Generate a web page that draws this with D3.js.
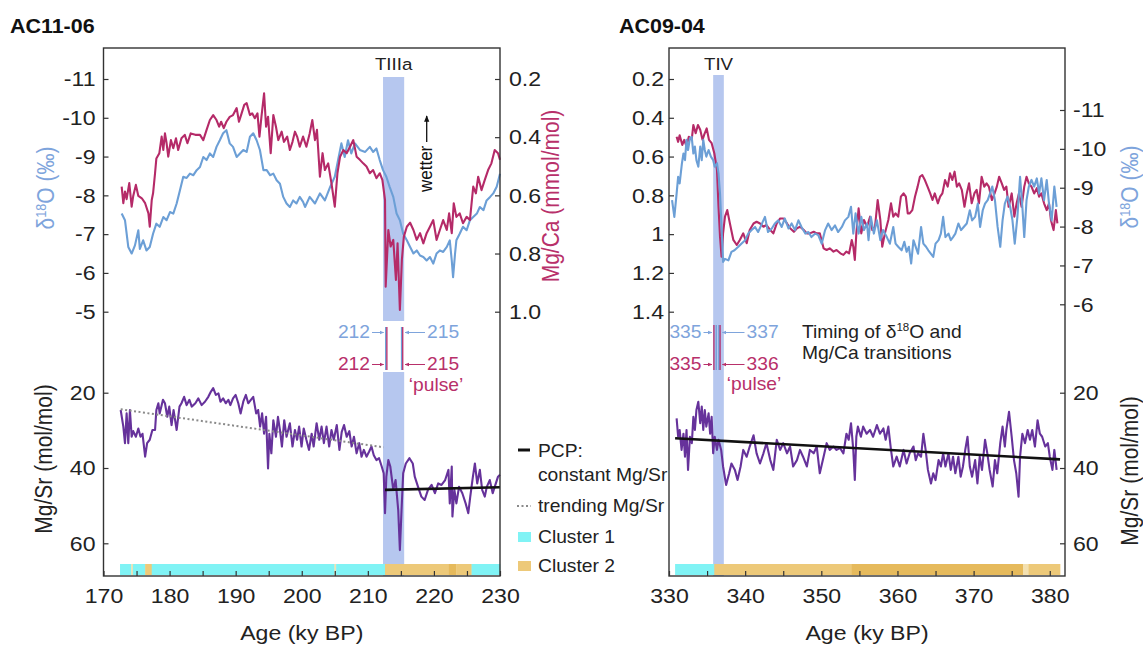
<!DOCTYPE html>
<html><head><meta charset="utf-8">
<script src="https://cdn.jsdelivr.net/npm/d3@7"></script>
<style>body{margin:0;background:#fff}svg{display:block}</style>
</head><body><svg id="c" width="1143" height="646"></svg>
<script>
// ---------------- DATA ----------------
const titles = ["AC11-06", "AC09-04"];
const xTicksL = [170,180,190,200,210,220,230];
const xTicksR = [330,340,350,360,370,380];
const d18oTicksL = [-11,-10,-9,-8,-7,-6,-5];
const mgcaTicksL = [0.2,0.4,0.6,0.8,1.0];
const mgcaTicksR = [0.2,0.4,0.6,0.8,1.0,1.2,1.4];
const d18oTicksR = [-11,-10,-9,-8,-7,-6];
const mgsrTicks = [20,40,60];
const bandL = [212.3,215.5];   // TIIIa
const bandR = [335.8,337.2];   // TIV

const leftD18O = [[172.75,-7.53],[173.25,-7.36],[173.75,-6.67],[174.26,-6.5],[174.76,-6.71],[175.27,-7.1],[175.5,-6.62],[176.0,-6.84],[176.5,-6.58],[177.0,-6.67],[177.5,-7.01],[178.0,-7.27],[178.5,-7.19],[179.05,-7.44],[179.55,-7.36],[180.06,-7.57],[180.56,-7.53],[181.07,-7.79],[181.57,-8.13],[182.07,-8.48],[182.58,-8.45],[183.08,-8.56],[183.6,-8.52],[184.1,-8.65],[184.6,-8.73],[185.1,-8.99],[185.6,-8.91],[186.1,-9.08],[186.6,-8.99],[187.1,-9.25],[187.6,-9.42],[188.1,-9.6],[188.6,-9.68],[189.1,-9.34],[189.6,-9.25],[190.15,-8.99],[190.65,-9.08],[191.15,-9.17],[191.66,-9.12],[192.16,-9.51],[192.66,-9.6],[193.17,-9.42],[193.67,-9.17],[194.2,-8.65],[194.7,-8.65],[195.2,-8.52],[195.7,-8.56],[196.2,-8.39],[196.7,-8.3],[197.2,-7.96],[197.7,-7.79],[198.2,-7.7],[198.7,-7.87],[199.2,-7.79],[199.7,-7.96],[200.2,-7.83],[200.5,-7.7],[201.2,-7.96],[202.0,-7.79],[202.75,-8.05],[203.5,-7.87],[204.3,-8.22],[205.0,-8.48],[205.5,-8.91],[206.0,-9.34],[206.5,-8.99],[207.0,-9.42],[207.5,-9.08],[208.05,-9.34],[208.8,-9.17],[209.6,-9.12],[210.3,-9.25],[210.8,-9.12],[211.3,-9.21],[211.8,-8.91],[212.3,-8.65],[212.8,-8.48],[213.3,-8.22],[213.85,-7.96],[214.35,-7.53],[214.85,-7.36],[215.35,-7.01],[215.9,-6.84],[216.4,-6.67],[216.9,-6.5],[217.4,-6.58],[217.9,-6.45],[218.4,-6.41],[218.9,-6.32],[219.4,-6.41],[219.9,-6.24],[220.4,-6.5],[220.9,-6.58],[221.4,-6.54],[221.95,-6.67],[222.4,-6.84],[222.7,-6.32],[222.9,-5.89],[223.2,-6.5],[223.4,-6.84],[223.9,-7.01],[224.4,-7.19],[224.95,-7.1],[225.45,-7.36],[225.95,-7.44],[226.5,-7.53],[226.95,-7.7],[227.5,-7.62],[227.97,-7.87],[228.5,-7.96],[228.98,-8.05],[229.5,-8.22],[230.0,-8.56]];

const leftMgCa = [[172.75,0.57],[173.0,0.627],[173.25,0.587],[173.5,0.613],[173.9,0.558],[174.26,0.639],[174.5,0.602],[174.9,0.564],[175.27,0.602],[175.8,0.61],[176.3,0.627],[176.8,0.662],[177.0,0.708],[177.3,0.616],[177.5,0.593],[177.8,0.524],[178.0,0.473],[178.45,0.455],[178.8,0.398],[179.05,0.444],[179.3,0.387],[179.55,0.421],[179.8,0.467],[180.2,0.41],[180.56,0.438],[180.97,0.404],[181.3,0.444],[181.8,0.404],[182.3,0.392],[182.7,0.421],[183.2,0.387],[183.9,0.392],[184.6,0.392],[185.1,0.41],[185.6,0.375],[186.1,0.341],[186.6,0.324],[187.1,0.341],[187.5,0.364],[187.8,0.347],[188.2,0.369],[188.6,0.347],[189.1,0.33],[189.6,0.324],[190.15,0.3],[190.5,0.347],[190.9,0.318],[191.3,0.289],[191.66,0.283],[192.16,0.324],[192.5,0.318],[192.9,0.335],[193.3,0.318],[193.6,0.398],[193.9,0.33],[194.3,0.249],[194.6,0.364],[194.9,0.33],[195.3,0.455],[195.7,0.324],[196.1,0.364],[196.45,0.41],[196.96,0.381],[197.3,0.416],[197.8,0.398],[198.2,0.444],[198.6,0.416],[198.97,0.381],[199.3,0.398],[199.7,0.433],[200.2,0.398],[200.7,0.433],[201.2,0.387],[201.6,0.341],[202.0,0.41],[202.3,0.375],[202.75,0.536],[203.15,0.455],[203.5,0.513],[204.0,0.49],[204.5,0.559],[205.0,0.639],[205.4,0.524],[205.8,0.467],[206.3,0.444],[206.8,0.455],[207.3,0.433],[207.8,0.41],[208.3,0.467],[208.8,0.478],[209.3,0.49],[209.8,0.501],[210.3,0.524],[210.8,0.513],[211.3,0.541],[211.8,0.524],[212.2,0.547],[212.6,0.616],[212.7,0.914],[213.1,0.719],[213.45,0.776],[213.85,0.753],[214.25,0.891],[214.5,0.765],[214.85,0.994],[215.15,0.822],[215.45,0.742],[215.9,0.708],[216.4,0.694],[216.9,0.719],[217.4,0.753],[217.9,0.73],[218.4,0.765],[218.9,0.73],[219.4,0.708],[219.9,0.685],[220.4,0.753],[220.9,0.719],[221.4,0.685],[221.95,0.719],[222.3,0.662],[222.7,0.73],[223.0,0.627],[223.4,0.674],[223.9,0.662],[224.4,0.696],[224.95,0.674],[225.45,0.685],[225.95,0.57],[226.35,0.593],[226.7,0.536],[227.2,0.582],[227.7,0.547],[228.2,0.513],[228.7,0.49],[229.2,0.444],[229.7,0.455],[230.0,0.478]];

const leftMgSr = [[172.6,24.6],[173.0,29.0],[173.25,33.4],[173.5,25.5],[173.75,33.4],[174.0,24.6],[174.26,31.7],[174.5,30.2],[174.9,31.7],[175.27,29.5],[175.6,31.7],[175.9,30.9],[176.3,37.0],[176.6,33.4],[177.0,32.5],[177.4,29.9],[177.8,29.9],[178.0,24.6],[178.3,22.8],[178.5,25.5],[179.0,21.9],[179.3,22.8],[179.65,26.4],[179.95,23.7],[180.3,28.6],[180.6,24.6],[181.07,29.9],[181.5,23.7],[181.8,22.8],[182.2,21.1],[182.58,23.3],[183.0,21.9],[183.35,23.7],[183.9,22.8],[184.35,21.5],[184.85,23.3],[185.35,22.4],[185.86,21.1],[186.26,19.7],[186.6,18.8],[187.0,20.6],[187.4,20.2],[187.7,22.4],[188.1,21.5],[188.5,22.8],[188.9,21.9],[189.2,23.3],[189.6,21.5],[190.0,20.6],[190.4,22.8],[190.75,25.5],[191.15,22.4],[191.55,20.6],[191.9,22.8],[192.3,21.9],[192.66,21.1],[193.1,25.5],[193.4,24.6],[193.7,29.0],[194.0,25.5],[194.3,30.9],[194.6,26.4],[194.9,40.1],[195.1,30.9],[195.4,36.1],[195.7,27.3],[196.1,31.7],[196.4,26.4],[196.7,29.9],[197.0,34.3],[197.35,27.3],[197.7,31.7],[198.2,28.1],[198.6,34.3],[198.97,29.9],[199.3,32.5],[199.6,29.0],[199.97,34.3],[200.3,29.5],[200.7,32.5],[201.1,35.2],[201.5,30.9],[201.8,34.3],[202.25,28.1],[202.65,32.5],[203.0,29.0],[203.35,33.4],[203.75,29.0],[204.15,34.3],[204.5,29.9],[204.85,32.5],[205.3,28.6],[205.7,35.2],[206.05,30.4],[206.4,28.6],[206.8,31.7],[207.2,30.2],[207.55,34.3],[207.9,31.7],[208.3,36.1],[208.7,33.4],[209.05,37.0],[209.4,35.2],[209.8,37.0],[210.2,35.6],[210.55,34.3],[210.9,36.6],[211.3,37.9],[211.7,37.4],[212.1,39.6],[212.4,41.4],[212.6,52.0],[212.8,42.3],[213.1,37.9],[213.4,39.6],[213.85,45.8],[214.2,43.2],[214.6,51.2],[214.85,61.8],[215.1,51.2],[215.35,41.4],[215.75,38.8],[216.3,37.4],[216.8,38.8],[217.1,42.3],[217.6,45.0],[218.1,47.6],[218.6,48.5],[219.1,45.8],[219.65,44.5],[220.15,46.7],[220.65,44.1],[221.15,44.5],[221.7,43.2],[222.2,40.5],[222.4,49.4],[222.7,39.6],[222.8,52.9],[223.1,45.8],[223.4,49.4],[223.8,45.0],[224.3,46.7],[224.8,49.4],[225.2,52.0],[225.5,47.6],[225.9,42.3],[226.2,38.8],[226.55,44.1],[226.95,40.5],[227.3,45.8],[227.7,47.6],[228.0,45.0],[228.45,43.2],[228.9,46.7],[229.2,45.0],[229.7,42.3],[230.0,41.8]];

const rightD18O = [[330.4,-8.68],[330.7,-8.25],[331.0,-8.85],[331.2,-9.28],[331.4,-9.11],[331.7,-9.63],[331.9,-9.88],[332.1,-9.71],[332.3,-10.23],[332.5,-9.97],[332.75,-10.27],[332.98,-10.31],[333.2,-9.88],[333.4,-10.06],[333.6,-9.71],[333.85,-9.54],[334.1,-10.06],[334.3,-9.71],[334.5,-10.23],[334.7,-9.97],[334.9,-9.8],[335.2,-9.97],[335.5,-9.8],[335.8,-9.71],[336.0,-9.54],[336.3,-9.63],[336.5,-9.37],[336.7,-8.85],[336.9,-7.99],[337.1,-7.09],[337.35,-7.17],[337.8,-7.13],[338.2,-7.35],[338.6,-7.39],[339.1,-7.48],[339.5,-7.56],[340.0,-7.65],[340.4,-7.82],[340.85,-7.91],[341.3,-7.99],[341.7,-7.86],[342.1,-8.03],[342.6,-8.25],[343.0,-7.86],[343.5,-7.95],[343.9,-8.08],[344.35,-8.16],[344.8,-7.99],[345.2,-8.21],[345.7,-7.95],[346.1,-8.08],[346.55,-7.91],[347.0,-8.16],[347.4,-7.99],[347.9,-7.82],[348.3,-7.86],[348.7,-7.73],[349.2,-7.82],[349.6,-7.78],[350.05,-7.56],[350.5,-7.91],[350.9,-8.08],[351.35,-7.91],[351.8,-8.03],[352.2,-7.86],[352.7,-7.99],[353.1,-8.16],[353.55,-8.25],[353.9,-8.51],[354.2,-7.82],[354.5,-8.34],[354.9,-7.82],[355.25,-8.25],[355.6,-7.91],[356.0,-8.08],[356.2,-7.65],[356.5,-8.25],[356.9,-7.82],[357.3,-8.16],[357.75,-7.65],[358.1,-7.91],[358.6,-7.73],[359.0,-7.56],[359.45,-7.99],[359.75,-7.56],[360.1,-7.48],[360.55,-7.39],[360.9,-7.61],[361.2,-7.35],[361.5,-7.48],[361.8,-7.05],[362.1,-7.65],[362.4,-7.48],[362.7,-7.3],[363.1,-7.99],[363.4,-7.56],[363.75,-7.48],[364.05,-7.39],[364.4,-7.3],[364.7,-7.22],[365.0,-7.56],[365.4,-7.65],[365.7,-7.82],[366.0,-8.25],[366.3,-7.73],[366.7,-7.82],[367.0,-7.65],[367.3,-7.73],[367.6,-7.82],[368.0,-8.08],[368.35,-7.91],[368.7,-7.99],[369.1,-8.08],[369.5,-8.42],[369.8,-8.16],[370.2,-8.25],[370.55,-8.59],[370.85,-7.99],[371.2,-8.42],[371.5,-8.59],[371.85,-8.68],[372.15,-8.85],[372.45,-9.03],[372.8,-8.68],[373.15,-7.99],[373.5,-7.48],[373.8,-8.16],[374.1,-8.59],[374.45,-8.77],[374.8,-8.51],[375.1,-8.16],[375.4,-7.56],[375.75,-8.25],[376.1,-9.28],[376.4,-8.51],[376.65,-7.73],[376.95,-8.68],[377.25,-9.03],[377.6,-9.2],[377.95,-9.03],[378.3,-9.24],[378.6,-8.85],[378.9,-9.24],[379.25,-8.68],[379.6,-9.2],[379.9,-8.59],[380.25,-8.16],[380.6,-9.03],[380.9,-8.51]];

const rightMgCa = [[331.0,0.498],[331.2,0.524],[331.4,0.49],[331.75,0.54],[332.0,0.514],[332.3,0.548],[332.6,0.498],[332.98,0.514],[333.2,0.437],[333.5,0.48],[333.8,0.437],[334.1,0.462],[334.4,0.514],[334.6,0.49],[334.95,0.455],[335.25,0.514],[335.6,0.531],[335.95,0.583],[336.3,0.669],[336.5,0.859],[336.7,1.013],[336.9,1.116],[337.1,0.996],[337.35,0.91],[337.65,0.876],[338.0,0.945],[338.45,1.03],[338.9,1.056],[339.3,1.03],[339.75,0.996],[340.2,1.047],[340.6,0.979],[341.1,0.945],[341.5,0.936],[341.95,0.945],[342.4,0.962],[342.8,0.953],[343.3,0.979],[343.7,0.996],[344.15,0.945],[344.6,0.919],[345.0,0.919],[345.5,0.945],[345.9,0.97],[346.4,0.988],[346.8,0.97],[347.2,0.962],[347.7,0.979],[348.1,0.996],[348.5,0.996],[349.0,0.988],[349.4,0.996],[349.8,0.996],[350.3,1.073],[350.7,1.082],[351.1,1.073],[351.6,1.09],[352.0,1.082],[352.5,1.099],[352.9,1.107],[353.3,1.09],[353.65,1.099],[354.0,1.03],[354.2,1.065],[354.4,1.133],[354.6,0.996],[354.9,0.867],[355.25,0.996],[355.6,0.927],[356.0,0.962],[356.4,0.91],[356.7,0.979],[357.05,0.962],[357.4,0.824],[357.75,0.927],[358.0,1.065],[358.35,0.996],[358.8,0.927],[359.15,0.841],[359.45,0.91],[359.75,0.893],[360.1,0.91],[360.45,0.807],[360.8,0.79],[361.1,0.807],[361.35,0.893],[361.6,0.893],[361.95,0.876],[362.3,0.807],[362.65,0.755],[362.95,0.704],[363.25,0.695],[363.6,0.721],[363.95,0.755],[364.3,0.79],[364.6,0.824],[364.9,0.79],[365.3,0.841],[365.6,0.807],[365.9,0.79],[366.25,0.721],[366.6,0.755],[366.9,0.686],[367.2,0.721],[367.5,0.678],[367.8,0.755],[368.1,0.738],[368.45,0.772],[368.8,0.859],[369.1,0.79],[369.4,0.738],[369.75,0.841],[370.1,0.79],[370.4,0.772],[370.7,0.841],[371.05,0.704],[371.4,0.755],[371.7,0.738],[372.0,0.755],[372.4,0.824],[372.75,0.79],[373.05,0.755],[373.35,0.704],[373.7,0.738],[374.0,0.772],[374.3,0.755],[374.6,0.859],[375.0,0.79],[375.35,0.91],[375.65,0.841],[375.95,0.79],[376.3,0.859],[376.65,0.755],[376.95,0.704],[377.25,0.738],[377.6,0.755],[377.95,0.79],[378.3,0.763],[378.6,0.807],[378.9,0.79],[379.25,0.841],[379.6,0.876],[379.9,0.841],[380.15,0.927],[380.5,0.979],[380.8,0.876],[381.0,0.945]];

const rightMgSr = [[331.0,26.8],[331.2,31.7],[331.4,29.9],[331.65,35.2],[331.9,30.9],[332.1,37.0],[332.3,29.9],[332.5,40.5],[332.75,31.7],[333.0,33.4],[333.2,26.4],[333.4,29.9],[333.6,24.6],[333.85,22.4],[334.1,28.1],[334.3,23.7],[334.5,29.9],[334.7,24.6],[334.9,29.0],[335.2,25.5],[335.4,30.9],[335.6,26.4],[335.8,36.1],[336.0,31.7],[336.3,35.2],[336.5,32.5],[336.85,35.2],[337.1,39.6],[337.5,44.5],[337.9,41.4],[338.2,38.8],[338.65,40.5],[339.0,43.2],[339.4,39.6],[339.75,35.2],[340.2,37.0],[340.6,34.3],[341.1,31.3],[341.5,36.1],[341.95,38.8],[342.4,36.1],[342.8,33.4],[343.3,37.9],[343.7,40.5],[344.15,32.5],[344.6,35.2],[345.0,33.4],[345.5,36.1],[345.9,34.3],[346.3,39.6],[346.8,37.9],[347.2,35.2],[347.6,37.0],[348.1,39.6],[348.5,35.2],[349.0,36.1],[349.4,34.3],[349.8,41.4],[350.3,37.0],[350.7,33.4],[351.1,35.2],[351.6,34.3],[352.0,35.2],[352.45,34.7],[352.9,36.1],[353.3,30.9],[353.6,32.5],[353.9,28.1],[354.2,35.2],[354.4,43.2],[354.6,31.7],[354.8,29.0],[355.2,31.7],[355.5,29.0],[355.95,30.9],[356.4,29.9],[356.8,31.7],[357.3,28.6],[357.7,30.9],[358.15,29.5],[358.45,32.5],[358.8,29.0],[359.15,35.2],[359.45,39.6],[359.9,37.0],[360.3,39.6],[360.8,35.2],[361.2,38.8],[361.6,36.1],[362.1,34.3],[362.4,37.9],[362.7,36.1],[363.1,37.0],[363.4,30.9],[363.7,35.2],[364.0,40.5],[364.4,44.1],[364.7,41.4],[365.0,43.2],[365.4,37.9],[365.7,39.6],[366.0,36.1],[366.3,39.6],[366.7,36.1],[367.0,40.5],[367.3,37.0],[367.6,41.4],[368.0,37.0],[368.3,42.3],[368.6,39.6],[368.9,35.2],[369.2,31.7],[369.5,39.6],[369.8,42.3],[370.2,37.9],[370.5,44.1],[370.8,37.0],[371.1,40.5],[371.5,32.5],[371.8,36.1],[372.1,40.5],[372.5,44.9],[372.8,37.9],[373.1,41.4],[373.5,33.4],[373.8,29.0],[374.1,34.3],[374.3,29.9],[374.65,25.1],[375.0,31.7],[375.3,37.9],[375.6,41.4],[375.9,47.6],[376.1,37.0],[376.4,30.9],[376.75,33.4],[377.1,29.9],[377.4,32.5],[377.7,29.9],[378.05,34.3],[378.4,27.3],[378.7,30.9],[379.0,31.7],[379.4,34.3],[379.75,33.4],[380.0,37.0],[380.35,40.5],[380.6,35.2],[380.9,40.5]];

const pcpL = [[212.6,45.8],[230.0,45.1]];
const trendL = [[172.6,24.4],[212.4,34.5]];
const pcpR = [[330.8,32.1],[381.35,37.7]];

// cluster segments: [start, end, cluster, shade]
const clusterL = [[172.5,174.2,1,0],[174.2,174.45,2,1],[174.45,176.3,1,0],[176.3,177.3,2,0],[177.3,204.95,1,0],[204.95,205.2,2,1],[205.2,212.6,1,0],[212.6,222.2,2,0],[222.2,223.4,2,2],[223.4,225.7,2,0],[225.7,230,1,0]];
const clusterR = [[330.8,335.95,1,0],[335.95,354.0,2,0],[354.0,376.5,2,2],[376.5,377.2,2,1],[377.2,381.35,2,0]];

// timing annotations (ky BP)
const timingL = {d18o:[212,215], mgca:[212,215], linesAt:[212.7,215.1]};
const timingR = {d18o:[335,337], mgca:[335,336], linesAt:[335.9,336.2,336.55]};

// ---------------- STYLE ----------------
const SX = 1.1;
const FONT = '"Liberation Sans", Arial, Helvetica, sans-serif';
const BLUE = '#6c9fd6', PINK = '#b52a68', PURPLE = '#66329b';
const BLUE_T = '#7ea4dc', PINK_T = '#b8306a';
const BAND = '#b6c7ef';
const CYAN = '#80f3f5';
const TAN = ['#edc979', '#f3e0b0', '#e6ba5c'];
const AXC = '#333';

const svg = d3.select('#c');
const TOP = 48, BOT = 576;

const xL = d3.scaleLinear().domain([170,230]).range([103.5,500]);
const xR = d3.scaleLinear().domain([330,382]).range([669,1065]);
const yLd = d3.scaleLinear().domain([-11,-5]).range([79,311.7]);
const yLm = d3.scaleLinear().domain([0.2,1.0]).range([79,311.7]);
const yRm = d3.scaleLinear().domain([0.2,1.4]).range([79,311.7]);
const yRd = d3.scaleLinear().domain([-11,-6]).range([110,304.3]);
const ySr = d3.scaleLinear().domain([20,60]).range([392.7,543.3]);

// markers
const defs = svg.append('defs');
function marker(id, color, size) {
  defs.append('marker').attr('id', id).attr('viewBox','0 0 10 10').attr('refX',9).attr('refY',5)
    .attr('markerWidth',size).attr('markerHeight',size).attr('orient','auto')
    .append('path').attr('d','M0,1L10,5L0,9z').attr('fill',color);
}
marker('mb', BLUE_T, 4.5); marker('mp', PINK_T, 4.5); marker('mk', '#111', 5);

function label(x, y, str, o = {}) {
  const size = o.size || 17;
  const t = svg.append('text')
    .attr('transform', `translate(${x},${y}) scale(${SX},1)` + (o.rot ? ` rotate(${o.rot})` : ''))
    .attr('text-anchor', o.anchor || 'start').attr('font-size', size)
    .attr('fill', o.color || '#222').attr('font-weight', o.weight || 'normal')
    .attr('font-family', FONT);
  if (str) t.text(str);
  return t;
}
function d18o(t, size, suffix) {
  t.append('tspan').text('δ');
  t.append('tspan').text('18').attr('font-size', size * 0.6).attr('dy', -size * 0.38);
  t.append('tspan').text(suffix).attr('dy', size * 0.38);
  return t;
}

// ---------------- BANDS ----------------
svg.append('rect').attr('x', xL(bandL[0])).attr('width', xL(bandL[1]) - xL(bandL[0]))
  .attr('y', 77).attr('height', 321 - 77).attr('fill', BAND);
svg.append('rect').attr('x', xL(bandL[0])).attr('width', xL(bandL[1]) - xL(bandL[0]))
  .attr('y', 372).attr('height', BOT - 372).attr('fill', BAND);
svg.append('rect').attr('x', xR(bandR[0])).attr('width', xR(bandR[1]) - xR(bandR[0]))
  .attr('y', 75).attr('height', BOT - 75).attr('fill', BAND);

// ---------------- CLUSTER BARS ----------------
function clusters(data, x) {
  svg.append('g').selectAll('rect').data(data).join('rect')
    .attr('x', d => x(d[0])).attr('width', d => x(d[1]) - x(d[0]) + 0.3)
    .attr('y', 564).attr('height', 11)
    .attr('fill', d => d[2] === 1 ? CYAN : TAN[d[3]]);
}
clusters(clusterL, xL); clusters(clusterR, xR);

// ---------------- SERIES ----------------
function series(data, x, y, color, w = 2.1) {
  svg.append('path').datum(data)
    .attr('d', d3.line().x(d => x(d[0])).y(d => y(d[1])))
    .attr('fill', 'none').attr('stroke', color).attr('stroke-width', w)
    .attr('stroke-linejoin', 'round');
}
series(leftD18O, xL, yLd, BLUE);
series(leftMgCa, xL, yLm, PINK);
series(leftMgSr, xL, ySr, PURPLE);
series(rightMgCa, xR, yRm, PINK);
series(rightD18O, xR, yRd, BLUE);
series(rightMgSr, xR, ySr, PURPLE);
series(pcpL, xL, ySr, '#111', 2.6);
series(pcpR, xR, ySr, '#111', 2.6);
svg.append('path').datum(trendL).attr('d', d3.line().x(d => xL(d[0])).y(d => ySr(d[1])))
  .attr('fill','none').attr('stroke','#8a8a8a').attr('stroke-width',2).attr('stroke-dasharray','2,2.5');

// ---------------- FRAMES & AXES ----------------
[[xL],[xR]].forEach(([x]) => {
  svg.append('rect').attr('x', x.range()[0]).attr('y', TOP)
    .attr('width', x.range()[1] - x.range()[0]).attr('height', BOT - TOP)
    .attr('fill', 'none').attr('stroke', AXC).attr('stroke-width', 1.4);
});

function styleAxis(g, size) {
  g.select('.domain').remove();
  g.attr('font-family', FONT).attr('font-size', size).attr('color', AXC);
  g.selectAll('.tick line').attr('stroke-width', 1.2);
  g.selectAll('.tick text').attr('fill', '#222').each(function () {
    const t = d3.select(this); const x = +t.attr('x') || 0;
    t.attr('transform', `translate(${x},0) scale(${SX},1) translate(${-x},0)`);
  });
}
function xAxis(x, ticks) {
  const [a, b] = x.domain();
  const minor = d3.range(Math.ceil(a / 5) * 5, b + 0.01, 5);
  svg.append('g').attr('transform', `translate(0,${BOT})`)
    .call(d3.axisBottom(x).tickValues(minor).tickSizeInner(-5).tickSizeOuter(0).tickFormat(''))
    .call(g => styleAxis(g, 21));
  svg.append('g').attr('transform', `translate(0,${BOT})`)
    .call(d3.axisBottom(x).tickValues(ticks).tickSizeInner(0).tickSizeOuter(0).tickPadding(12).tickFormat(d => String(d)))
    .call(g => styleAxis(g, 21));
}
xAxis(xL, xTicksL); xAxis(xR, xTicksR);

function yAxis(axisFn, y, ticks, xpos, fmt, pad) {
  svg.append('g').attr('transform', `translate(${xpos},0)`)
    .call(axisFn(y).tickValues(ticks).tickSizeInner(-5).tickSizeOuter(0).tickPadding(pad).tickFormat(fmt))
    .call(g => styleAxis(g, 21));
}
yAxis(d3.axisLeft, yLd, d18oTicksL, xL.range()[0], d => String(d), 8);
yAxis(d3.axisRight, yLm, mgcaTicksL, xL.range()[1], d => d.toFixed(1), 9);
yAxis(d3.axisLeft, ySr, mgsrTicks, xL.range()[0], d => String(d), 8);
yAxis(d3.axisLeft, yRm, mgcaTicksR, xR.range()[0], d => d === 1 ? '1' : d.toFixed(1), 5);
yAxis(d3.axisRight, yRd, d18oTicksR, xR.range()[1], d => String(d), 8);
yAxis(d3.axisRight, ySr, mgsrTicks, xR.range()[1], d => String(d), 8);

// ---------------- TEXT ----------------
label(10, 33, titles[0], {size: 19.5, weight: 'bold', color: '#111'});
label(619, 33, titles[1], {size: 19.5, weight: 'bold', color: '#111'});
label(xL((bandL[0] + bandL[1]) / 2), 70, 'TIIIa', {size: 17, anchor: 'middle'});
label(xR((bandR[0] + bandR[1]) / 2), 70, 'TIV', {size: 17, anchor: 'middle'});

const AT = 21;
const cx = AT * 0.36 * SX;
d18o(label(46 + cx, 188, null, {size: AT, rot: -90, anchor: 'middle', color: BLUE_T}), AT, 'O (‰)');
label(551 + cx, 196, 'Mg/Ca (mmol/mol)', {size: AT, rot: -90, anchor: 'middle', color: PINK_T});
label(44 + cx, 459, 'Mg/Sr (mol/mol)', {size: AT, rot: -90, anchor: 'middle', color: '#222'});
d18o(label(1130 + cx, 187, null, {size: AT, rot: -90, anchor: 'middle', color: BLUE_T}), AT, 'O (‰)');
label(1130 + cx, 471, 'Mg/Sr (mol/mol)', {size: AT, rot: -90, anchor: 'middle', color: '#222'});
label(d3.mean(xL.range()), 640, 'Age (ky BP)', {size: AT, anchor: 'middle'});
label(d3.mean(xR.range()), 640, 'Age (ky BP)', {size: AT, anchor: 'middle'});

// wetter arrow
label(431.5, 192, 'wetter', {size: 17, rot: -90, anchor: 'start', color: '#111'});
svg.append('line').attr('x1', 426.7).attr('x2', 426.7).attr('y1', 142).attr('y2', 116)
  .attr('stroke', '#111').attr('stroke-width', 1.3).attr('marker-end', 'url(#mk)');

// timing annotations
function timing(t, x, yTop, yBot, lineColors, leftEnd, rightStart) {
  t.linesAt.forEach((a, i) => {
    const c = lineColors[i];
    c.forEach((col, j) => svg.append('line').attr('x1', x(a) + j * 1.2).attr('x2', x(a) + j * 1.2)
      .attr('y1', yTop).attr('y2', yBot).attr('stroke', col).attr('stroke-width', 1.3));
  });
  const first = x(t.linesAt[0]), last = x(t.linesAt[t.linesAt.length - 1]) + 1.5;
  [[t.d18o, BLUE_T, 'mb', 338], [t.mgca, PINK_T, 'mp', 370]].forEach(([v, col, m, yb]) => {
    label(leftEnd, yb, String(v[0]), {size: 17.5, anchor: 'end', color: col});
    svg.append('line').attr('x1', leftEnd + 2).attr('x2', first - 2).attr('y1', yb - 5.5).attr('y2', yb - 5.5)
      .attr('stroke', col).attr('stroke-width', 1).attr('marker-end', `url(#${m})`);
    label(rightStart, yb, String(v[1]), {size: 17.5, anchor: 'start', color: col});
    svg.append('line').attr('x1', rightStart - 2).attr('x2', last + 2).attr('y1', yb - 5.5).attr('y2', yb - 5.5)
      .attr('stroke', col).attr('stroke-width', 1).attr('marker-end', `url(#${m})`);
  });
}
timing(timingL, xL, 327, 370, [[BLUE, PINK], [BLUE, PINK]], 370, 427);
timing(timingR, xR, 325, 370, [[PINK], [BLUE], [BLUE, PINK]], 701.5, 746.5);
label(436, 391, '‘pulse’', {size: 17.5, anchor: 'middle', color: PINK_T});
label(754, 390, '‘pulse’', {size: 17.5, anchor: 'middle', color: PINK_T});
d18o(label(802, 338, null, {size: 17.5, color: '#222'}).call(t => t.append('tspan').text('Timing of ')), 17.5, 'O and');
label(802, 359, 'Mg/Ca transitions', {size: 17.5, color: '#222'});

// legend
svg.append('line').attr('x1', 518).attr('x2', 530).attr('y1', 450).attr('y2', 450).attr('stroke', '#111').attr('stroke-width', 3);
label(538, 457, 'PCP:', {size: 17.5});
label(538, 481, 'constant Mg/Sr', {size: 17.5});
svg.append('line').attr('x1', 517).attr('x2', 531).attr('y1', 506).attr('y2', 506).attr('stroke', '#8a8a8a').attr('stroke-width', 2).attr('stroke-dasharray', '2,2.5');
label(538, 512, 'trending Mg/Sr', {size: 17.5});
svg.append('rect').attr('x', 518).attr('y', 532).attr('width', 13).attr('height', 10).attr('fill', CYAN);
label(538, 543, 'Cluster 1', {size: 17.5});
svg.append('rect').attr('x', 518).attr('y', 561).attr('width', 13).attr('height', 10).attr('fill', TAN[0]);
label(538, 572, 'Cluster 2', {size: 17.5});
</script></body></html>
